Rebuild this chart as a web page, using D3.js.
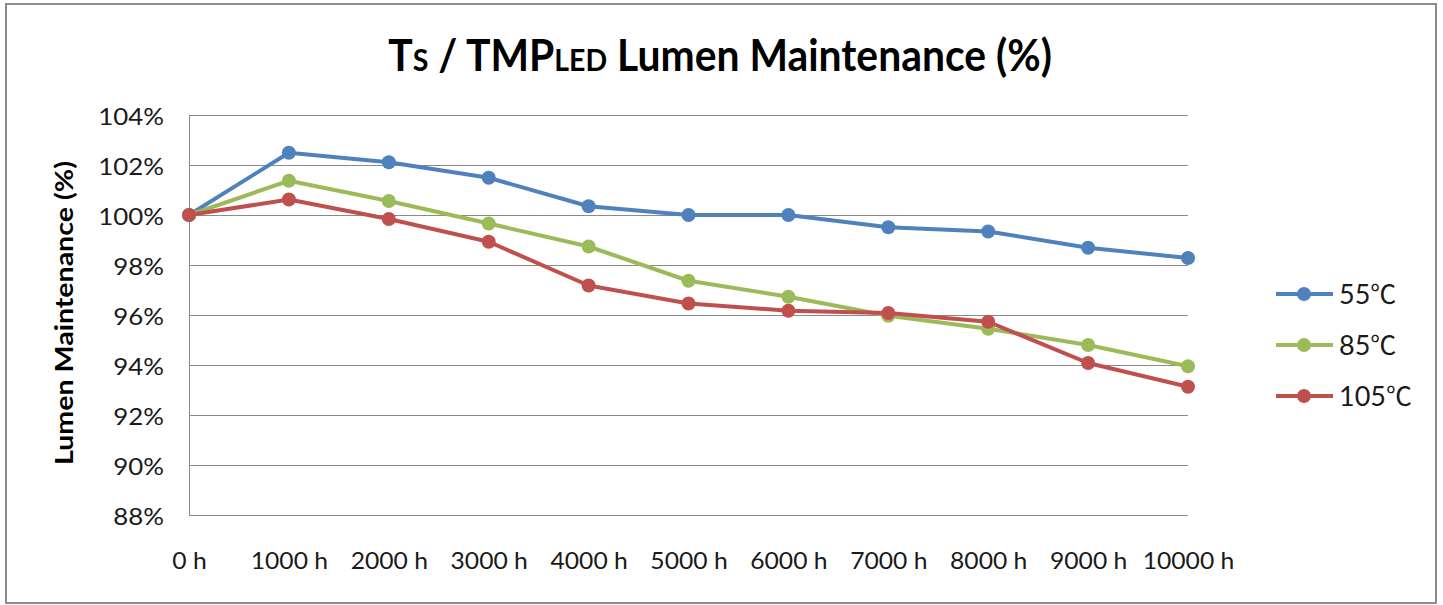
<!DOCTYPE html>
<html><head><meta charset="utf-8">
<script src="https://cdn.jsdelivr.net/npm/d3@7"></script>
<style>body{margin:0;background:#fff;} svg{display:block;}</style>
</head><body>
<svg id="c" width="1443" height="605"></svg>
<script>
const categories = ["0 h","1000 h","2000 h","3000 h","4000 h","5000 h","6000 h","7000 h","8000 h","9000 h","10000 h"];
const seriesNames = ["55℃","85℃","105℃"];
const s55  = [100, 102.49, 102.11, 101.49, 100.35, 100.0, 100.0, 99.51, 99.34, 98.69, 98.28];
const s85  = [100, 101.37, 100.56, 99.66, 98.74, 97.37, 96.73, 95.97, 95.45, 94.80, 93.95];
const s105 = [100, 100.62, 99.84, 98.93, 97.18, 96.46, 96.17, 96.08, 95.73, 94.08, 93.13];
const yTicks = [88, 90, 92, 94, 96, 98, 100, 102, 104];
const colors = ["#4F81BD", "#9BBB59", "#C0504D"];

const series = [s55, s85, s105];
const svg = d3.select("#c");
const font = "Lato, 'Liberation Sans', sans-serif";
const textCol = "#1a1a1a";

// horizontally stretch a text to a target width (reference font is wider)
function stretch(sel, factor) {
  sel.each(function(){
    const w = this.getComputedTextLength();
    d3.select(this).attr("textLength", w*factor).attr("lengthAdjust","spacingAndGlyphs");
  });
}

// outer border
svg.append("rect").attr("x",6).attr("y",4).attr("width",1430).attr("height",599)
  .attr("fill","#fff").attr("stroke","#8c8c8c").attr("stroke-width",2);

const x = d3.scalePoint().domain(categories).range([189, 1188]);
const y = d3.scaleLinear().domain([88, 104]).range([515, 115]);

// gridlines
svg.append("g").selectAll("line").data(yTicks).join("line")
  .attr("x1",189).attr("x2",1188)
  .attr("y1",d=>y(d)).attr("y2",d=>y(d))
  .attr("stroke","#8a8a8a").attr("stroke-width",1).attr("shape-rendering","crispEdges");

// left axis line
svg.append("line").attr("x1",189).attr("x2",189).attr("y1",y(104)).attr("y2",y(88))
  .attr("stroke","#8a8a8a").attr("stroke-width",1).attr("shape-rendering","crispEdges");

// y tick labels
const yAxis = d3.axisLeft(y).tickValues(yTicks).tickSize(0).tickPadding(25).tickFormat(d=>d+"%");
const ya = svg.append("g").attr("transform","translate(189,0)").call(yAxis);
ya.select(".domain").remove();
ya.selectAll("text").attr("font-family",font).attr("font-size",23.5).attr("fill",textCol)
  .attr("dy",null).attr("y",9);
stretch(ya.selectAll("text"), 1.1);

// x tick labels
const xAxis = d3.axisBottom(x).tickSize(0).tickPadding(0);
const xa = svg.append("g").attr("transform","translate(0,515)").call(xAxis);
xa.select(".domain").remove();
xa.selectAll("text").attr("font-family",font).attr("font-size",23.5).attr("fill",textCol)
  .attr("dy",null).attr("y",54);
stretch(xa.selectAll("text"), 1.05);

// lines
const line = d3.line().x((d,i)=>x(categories[i])).y(d=>y(d));
series.forEach((s,k)=>{
  svg.append("path").datum(s).attr("d",line).attr("fill","none")
    .attr("stroke",colors[k]).attr("stroke-width",4).attr("stroke-linejoin","round");
});
series.forEach((s,k)=>{
  svg.append("g").selectAll("circle").data(s).join("circle")
    .attr("cx",(d,i)=>x(categories[i])).attr("cy",d=>y(d)).attr("r",7)
    .attr("fill",colors[k]);
});

// legend
const lg = svg.append("g");
seriesNames.forEach((n,k)=>{
  const ly = 294 + k*51;
  lg.append("line").attr("x1",1276).attr("x2",1333).attr("y1",ly).attr("y2",ly)
    .attr("stroke",colors[k]).attr("stroke-width",4);
  lg.append("circle").attr("cx",1304).attr("cy",ly).attr("r",7).attr("fill",colors[k]);
  const tx = lg.append("text").attr("x",1339).attr("y",ly+10).attr("font-family",font)
    .attr("font-size",27).attr("fill",textCol);
  tx.append("tspan").text(n.replace("℃",""));
  tx.append("tspan").attr("font-family","'Noto Sans CJK SC', sans-serif").attr("font-size",26).text("℃");
});

// title
const tg = svg.append("g");
const t = tg.append("text").attr("x",0).attr("y",0).attr("text-anchor","middle")
  .attr("font-family",font).attr("font-weight","bold").attr("font-size",43).attr("fill","#000");
t.append("tspan").text("T");
t.append("tspan").attr("font-size",30).text("S");
t.append("tspan").text(" / TMP");
t.append("tspan").attr("font-size",30).text("LED");
t.append("tspan").text(" Lumen Maintenance (%)");
const tw = t.node().getBBox().width;
tg.attr("transform",`translate(720,71) scale(${664/tw},1)`);

// y-axis title
const yt = svg.append("text").attr("transform","translate(73,313) rotate(-90)").attr("text-anchor","middle")
  .attr("font-family",font).attr("font-weight","bold").attr("font-size",25).attr("fill","#000")
  .text("Lumen Maintenance (%)");
yt.attr("textLength",304).attr("lengthAdjust","spacingAndGlyphs");
</script>
</body></html>
